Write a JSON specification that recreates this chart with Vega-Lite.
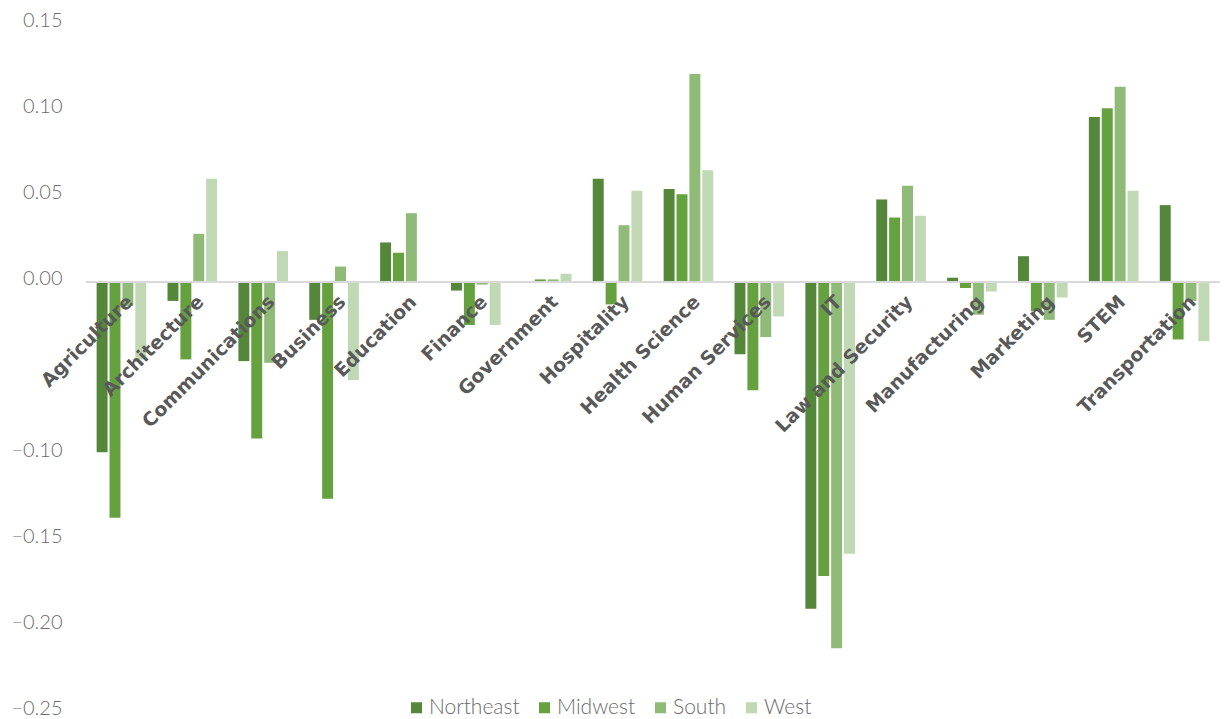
{
  "$schema": "https://vega.github.io/schema/vega-lite/v6.json",
  "width": 1134,
  "height": 688,
  "autosize": {"type": "none"},
  "padding": {"left": 86, "top": 24, "right": 5, "bottom": 7},
  "background": "white",
  "config": {"view": {"stroke": null}, "font": "Lato"},
  "data": {
    "values": [
      {"career": "Agriculture", "region": "Northeast", "value": -0.099},
      {"career": "Agriculture", "region": "Midwest", "value": -0.137},
      {"career": "Agriculture", "region": "South", "value": -0.014},
      {"career": "Agriculture", "region": "West", "value": -0.045},
      {"career": "Architecture", "region": "Northeast", "value": -0.011},
      {"career": "Architecture", "region": "Midwest", "value": -0.045},
      {"career": "Architecture", "region": "South", "value": 0.028},
      {"career": "Architecture", "region": "West", "value": 0.06},
      {"career": "Communications", "region": "Northeast", "value": -0.046},
      {"career": "Communications", "region": "Midwest", "value": -0.091},
      {"career": "Communications", "region": "South", "value": -0.047},
      {"career": "Communications", "region": "West", "value": 0.018},
      {"career": "Business", "region": "Northeast", "value": -0.022},
      {"career": "Business", "region": "Midwest", "value": -0.126},
      {"career": "Business", "region": "South", "value": 0.009},
      {"career": "Business", "region": "West", "value": -0.057},
      {"career": "Education", "region": "Northeast", "value": 0.023},
      {"career": "Education", "region": "Midwest", "value": 0.017},
      {"career": "Education", "region": "South", "value": 0.04},
      {"career": "Education", "region": "West", "value": 0},
      {"career": "Finance", "region": "Northeast", "value": -0.005},
      {"career": "Finance", "region": "Midwest", "value": -0.025},
      {"career": "Finance", "region": "South", "value": -0.0015},
      {"career": "Finance", "region": "West", "value": -0.025},
      {"career": "Government", "region": "Northeast", "value": 0},
      {"career": "Government", "region": "Midwest", "value": 0.0015},
      {"career": "Government", "region": "South", "value": 0.0015},
      {"career": "Government", "region": "West", "value": 0.0048},
      {"career": "Hospitality", "region": "Northeast", "value": 0.06},
      {"career": "Hospitality", "region": "Midwest", "value": -0.013},
      {"career": "Hospitality", "region": "South", "value": 0.033},
      {"career": "Hospitality", "region": "West", "value": 0.053},
      {"career": "Health Science", "region": "Northeast", "value": 0.054},
      {"career": "Health Science", "region": "Midwest", "value": 0.051},
      {"career": "Health Science", "region": "South", "value": 0.121},
      {"career": "Health Science", "region": "West", "value": 0.065},
      {"career": "Human Services", "region": "Northeast", "value": -0.042},
      {"career": "Human Services", "region": "Midwest", "value": -0.063},
      {"career": "Human Services", "region": "South", "value": -0.032},
      {"career": "Human Services", "region": "West", "value": -0.02},
      {"career": "IT", "region": "Northeast", "value": -0.19},
      {"career": "IT", "region": "Midwest", "value": -0.171},
      {"career": "IT", "region": "South", "value": -0.213},
      {"career": "IT", "region": "West", "value": -0.158},
      {"career": "Law and Security", "region": "Northeast", "value": 0.048},
      {"career": "Law and Security", "region": "Midwest", "value": 0.0375},
      {"career": "Law and Security", "region": "South", "value": 0.056},
      {"career": "Law and Security", "region": "West", "value": 0.0385},
      {"career": "Manufacturing", "region": "Northeast", "value": 0.0025},
      {"career": "Manufacturing", "region": "Midwest", "value": -0.0035},
      {"career": "Manufacturing", "region": "South", "value": -0.019},
      {"career": "Manufacturing", "region": "West", "value": -0.0055},
      {"career": "Marketing", "region": "Northeast", "value": 0.015},
      {"career": "Marketing", "region": "Midwest", "value": -0.017},
      {"career": "Marketing", "region": "South", "value": -0.022},
      {"career": "Marketing", "region": "West", "value": -0.009},
      {"career": "STEM", "region": "Northeast", "value": 0.096},
      {"career": "STEM", "region": "Midwest", "value": 0.101},
      {"career": "STEM", "region": "South", "value": 0.1135},
      {"career": "STEM", "region": "West", "value": 0.053},
      {"career": "Transportation", "region": "Northeast", "value": 0.0447},
      {"career": "Transportation", "region": "Midwest", "value": -0.0334},
      {"career": "Transportation", "region": "South", "value": -0.011},
      {"career": "Transportation", "region": "West", "value": -0.0344}
    ]
  },
  "layer": [
    {
      "mark": {"type": "bar"},
      "encoding": {
        "x": {
          "field": "career",
          "type": "nominal",
          "sort": null,
          "scale": {"paddingInner": 0.3, "paddingOuter": 0.15},
          "axis": {
            "orient": "bottom",
            "offset": -430,
            "zindex": 1,
            "domain": false,
            "ticks": false,
            "tickSize": 0,
            "labelAngle": -45,
            "labelAlign": "right",
            "labelBaseline": "top",
            "labelPadding": 10,
            "labelOffset": 2,
            "labelFont": "DejaVu Sans",
            "labelFontWeight": "bold",
            "labelFontSize": 19,
            "labelColor": "#595959",
            "labelOverlap": false,
            "labelLimit": 0,
            "title": null
          }
        },
        "xOffset": {
          "field": "region",
          "type": "nominal",
          "sort": ["Northeast", "Midwest", "South", "West"],
          "scale": {"paddingInner": 0.15}
        },
        "y": {
          "field": "value",
          "type": "quantitative",
          "scale": {"domain": [-0.25, 0.15], "nice": false, "zero": false},
          "axis": {
            "values": [0.15, 0.1, 0.05, 0, -0.1, -0.15, -0.2, -0.25],
            "format": ".2f",
            "domain": false,
            "ticks": false,
            "tickSize": 0,
            "grid": false,
            "labelPadding": 24,
            "labelOffset": -4,
            "labelFont": "Lato",
            "labelFontWeight": 300,
            "labelFontSize": 20,
            "labelColor": "#6b6b6b",
            "title": null
          }
        },
        "color": {
          "field": "region",
          "type": "nominal",
          "sort": ["Northeast", "Midwest", "South", "West"],
          "scale": {
            "domain": ["Northeast", "Midwest", "South", "West"],
            "range": ["#55873b", "#66a140", "#8fba78", "#c0d8b3"]
          },
          "legend": {
            "orient": "none",
            "legendX": 320,
            "legendY": 673,
            "direction": "horizontal",
            "title": null,
            "symbolType": "square",
            "symbolSize": 121,
            "symbolStrokeWidth": 0,
            "labelFont": "Lato",
            "labelFontWeight": 300,
            "labelFontSize": 21,
            "labelColor": "#6b6b6b",
            "labelOffset": 2,
            "columnPadding": 14
          }
        }
      }
    },
    {
      "mark": {"type": "rule", "color": "#d9d9d9", "strokeWidth": 2},
      "encoding": {"y": {"datum": 0}}
    }
  ]
}
